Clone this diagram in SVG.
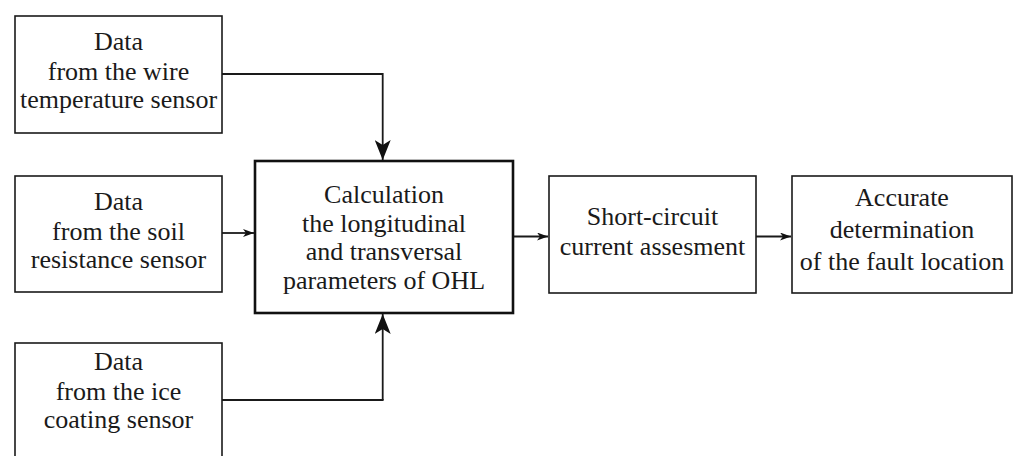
<svg xmlns="http://www.w3.org/2000/svg" width="1016" height="456" viewBox="0 0 1016 456">
<defs>
<style>
.box{fill:#fff;stroke:#1a1a1a;stroke-width:1.6}
.main{fill:#fff;stroke:#111;stroke-width:2.6}
.t{font-family:"Liberation Serif","Times New Roman",serif;font-size:26px;fill:#1a1a1a;text-anchor:middle}
.c{fill:none;stroke:#1a1a1a;stroke-width:1.8}
</style>
<marker id="big" viewBox="0 0 20 16" refX="20" refY="8" markerWidth="20" markerHeight="16" markerUnits="userSpaceOnUse" orient="auto">
<path d="M0,0 L20,8 L0,16 L5,8 Z" fill="#111"/>
</marker>
<marker id="small" viewBox="0 0 11 8" refX="11" refY="4" markerWidth="11" markerHeight="8" markerUnits="userSpaceOnUse" orient="auto">
<path d="M0,0 L11,4 L0,8 L3,4 Z" fill="#111"/>
</marker>
</defs>
<rect width="1016" height="456" fill="#fff"/>
<g id="connectors">
<path class="c" d="M222,74 H382.7 V160" marker-end="url(#big)"/>
<path class="c" d="M382.7,400 V314" marker-end="url(#big)"/>
<path class="c" d="M222,400 H383.6"/>
<path class="c" d="M222,233 H254" marker-end="url(#small)"/>
<path class="c" d="M513,236.5 H548" marker-end="url(#small)"/>
<path class="c" d="M756,236.5 H791" marker-end="url(#small)"/>
</g>
<g id="wire-temp">
<rect class="box" x="15" y="16" width="207" height="117"/>
<text class="t" x="118.5" y="50">Data</text>
<text class="t" x="118.5" y="80">from the wire</text>
<text class="t" x="118.5" y="108">temperature sensor</text>
</g>
<g id="soil">
<rect class="box" x="15" y="176" width="207" height="116"/>
<text class="t" x="118.5" y="210">Data</text>
<text class="t" x="118.5" y="240">from the soil</text>
<text class="t" x="118.5" y="268">resistance sensor</text>
</g>
<g id="ice">
<rect class="box" x="15" y="343" width="207" height="120"/>
<text class="t" x="118.5" y="370">Data</text>
<text class="t" x="118.5" y="400">from the ice</text>
<text class="t" x="118.5" y="428">coating sensor</text>
</g>
<g id="calc">
<rect class="main" x="255" y="161" width="258" height="152"/>
<text class="t" x="384" y="203">Calculation</text>
<text class="t" x="384" y="232">the longitudinal</text>
<text class="t" x="384" y="260">and transversal</text>
<text class="t" x="384" y="289">parameters of OHL</text>
</g>
<g id="short-circuit">
<rect class="box" x="549" y="176" width="207" height="117"/>
<text class="t" x="652.5" y="225">Short-circuit</text>
<text class="t" x="652.5" y="255">current assesment</text>
</g>
<g id="fault">
<rect class="box" x="792" y="176" width="220" height="117"/>
<text class="t" x="902" y="206">Accurate</text>
<text class="t" x="902" y="238">determination</text>
<text class="t" x="902" y="270">of the fault location</text>
</g>
</svg>
